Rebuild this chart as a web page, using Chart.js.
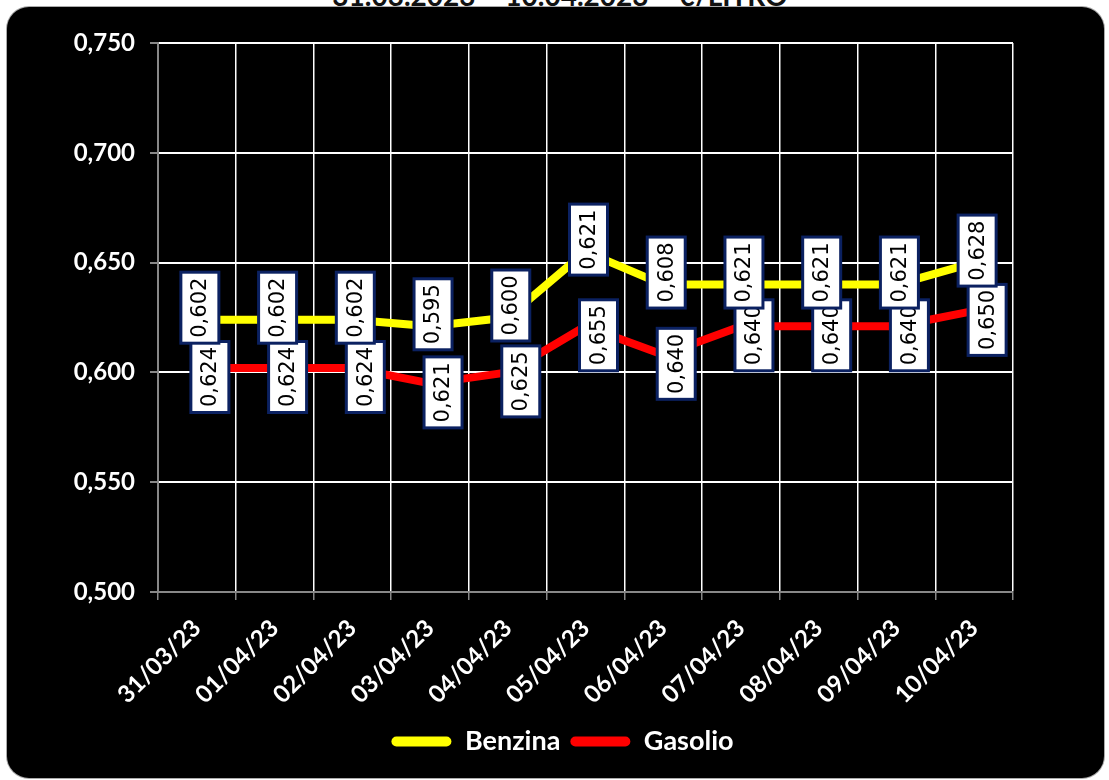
<!DOCTYPE html>
<html>
<head>
<meta charset="utf-8">
<script src="https://cdn.jsdelivr.net/npm/chart.js@4.4.0/dist/chart.umd.min.js"></script>
<style>
  html, body { margin: 0; padding: 0; background: #fff; width: 1109px; height: 780px; overflow: hidden; }
  #title { position: absolute; left: 0; width: 1120px; top: -19px; text-align: center;
           font: bold 28px Lato, sans-serif; line-height: 28px; color: #111; }
  #panel { position: absolute; left: 7px; top: 7px; width: 1097px; height: 771px;
           background: #000; border-radius: 22px; box-shadow: 0 0 0 1px #aaa; }
</style>
</head>
<body>
<div id="title">31.03.2023 – 10.04.2023 – €/LITRO</div>
<div id="panel"><canvas id="chart" width="1097" height="771"></canvas></div>
<script>
// data
const categories = ['31/03/23', '01/04/23', '02/04/23', '03/04/23', '04/04/23', '05/04/23',
                    '06/04/23', '07/04/23', '08/04/23', '09/04/23', '10/04/23'];
const benzina = [0.624, 0.624, 0.624, 0.621, 0.625, 0.655, 0.640, 0.640, 0.640, 0.640, 0.650];
const gasolio = [0.602, 0.602, 0.602, 0.595, 0.600, 0.621, 0.608, 0.621, 0.621, 0.621, 0.628];
// in the source the value boxes are crossed: the yellow line carries the gasolio figures and vice versa
const benzinaBoxText = gasolio;
const gasolioBoxText = benzina;
const yTicks = { min: 0.5, max: 0.75, step: 0.05 };

const fmt = (v) => v.toFixed(3).replace('.', ',');

// white value boxes with vertical text, like the Excel data labels
const valueBoxes = {
    id: 'valueBoxes',
    afterDatasetsDraw(chart) {
        const ctx = chart.ctx;
        // gasolio boxes first, benzina boxes end up on top
        [1, 0].forEach((i) => {
            const ds = chart.data.datasets[i];
            const meta = chart.getDatasetMeta(i);
            meta.data.forEach((pt, j) => {
                const cx = pt.x + ds.boxDx, cy = pt.y + ds.boxDy;
                const w = 38, h = 71;
                ctx.save();
                ctx.fillStyle = '#fff';
                ctx.fillRect(cx - w / 2, cy - h / 2, w, h);
                ctx.lineWidth = 3;
                ctx.strokeStyle = '#0b2161';
                ctx.strokeRect(cx - w / 2, cy - h / 2, w, h);
                ctx.translate(cx, cy);
                ctx.rotate(-Math.PI / 2);
                ctx.fillStyle = '#000';
                ctx.font = '21px "DejaVu Sans", sans-serif';
                ctx.textAlign = 'center';
                ctx.textBaseline = 'middle';
                ctx.fillText(fmt(ds.boxText[j]), 0, 1);
                ctx.restore();
            });
        });
    }
};

new Chart(document.getElementById('chart'), {
    type: 'line',
    data: {
        labels: categories,
        datasets: [
            { label: 'Benzina', data: benzina, boxText: benzinaBoxText, boxDx: 3, boxDy: -12,
              borderColor: '#ffff00', backgroundColor: '#ffff00', borderWidth: 8, pointRadius: 0,
              borderCapStyle: 'round', borderJoinStyle: 'round', tension: 0 },
            { label: 'Gasolio', data: gasolio, boxText: gasolioBoxText, boxDx: 13, boxDy: 9,
              borderColor: '#ff0000', backgroundColor: '#ff0000', borderWidth: 8, pointRadius: 0,
              borderCapStyle: 'round', borderJoinStyle: 'round', tension: 0 }
        ]
    },
    options: {
        responsive: false, animation: false,
        layout: { padding: { left: 14, top: 36, right: 0, bottom: 13 } },
        plugins: {
            legend: {
                position: 'bottom',
                labels: {
                    color: '#fff', font: { family: 'Lato', weight: 'bold', size: 27 },
                    boxWidth: 60, boxHeight: 10, useBorderRadius: true, borderRadius: 5, padding: 10,
                    generateLabels(chart) {
                        return Chart.defaults.plugins.legend.labels.generateLabels(chart)
                            .map(l => Object.assign(l, { lineWidth: 0 }));
                    }
                }
            },
            tooltip: { enabled: false }
        },
        scales: {
            x: {
                offset: true,
                grid: { display: true, offset: true, color: '#fff', lineWidth: 1.5, tickColor: '#888', tickLength: 8 },
                border: { color: '#888', width: 2 },
                ticks: { color: '#fff', font: { family: 'Lato', weight: 'bold', size: 24 },
                         minRotation: 45, maxRotation: 45, padding: 14 },
                afterFit(scale) { scale.height = 126; }
            },
            y: {
                min: yTicks.min, max: yTicks.max,
                grid: { color: '#fff', lineWidth: 2, tickColor: '#888', tickLength: 8 },
                border: { color: '#888', width: 2 },
                ticks: { stepSize: yTicks.step, color: '#fff', padding: 15,
                         font: { family: 'Lato', weight: 'bold', size: 24 },
                         callback: (v) => fmt(v) },
                afterFit(scale) { scale.width = 137; }
            },
            // empty right-hand space, as in the source
            yRight: {
                position: 'right', display: true,
                grid: { display: false }, border: { display: false }, ticks: { display: false },
                afterFit(scale) { scale.width = 91; }
            }
        }
    },
    plugins: [valueBoxes]
});
</script>
</body>
</html>
